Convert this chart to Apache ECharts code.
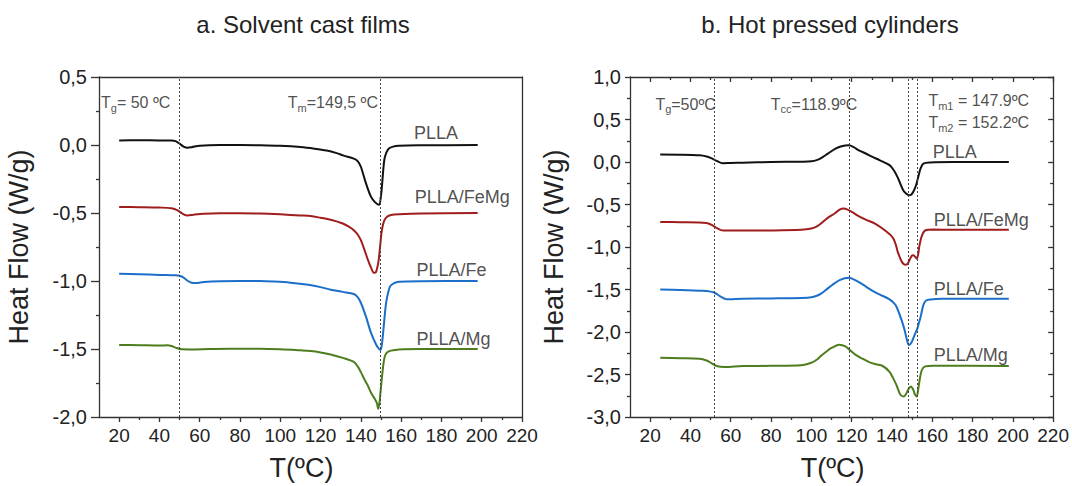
<!DOCTYPE html>
<html>
<head>
<meta charset="utf-8">
<script src="https://cdn.jsdelivr.net/npm/echarts@6/dist/echarts.min.js"></script>
<style>
  html, body { margin: 0; padding: 0; background: #fff; }
  #chart { width: 1072px; height: 486px; }
</style>
</head>
<body>
<div id="chart"></div>
<script>
// a. solvent cast films, [T (ºC), heat flow (W/g)]
const castPLLA = [[20,0.034],[30,0.035],[40,0.034],[46,0.033],[48,0.028],[50,0.01],[52,-0.012],[54,-0.02],[56,-0.016],[60,-0.005],[70,0],[80,0],[90,-0.002],[100,-0.006],[110,-0.015],[117,-0.027],[123,-0.041],[128,-0.06],[131.5,-0.078],[136.5,-0.1],[138.5,-0.12],[140,-0.16],[142.5,-0.28],[145,-0.38],[147,-0.42],[149,-0.44],[150,-0.37],[150.6,-0.28],[151.2,-0.17],[151.9,-0.09],[153.6,-0.03],[156,-0.012],[159,-0.005],[170,-0.002],[198,0]];
const castFeMg = [[20,-0.455],[30,-0.457],[40,-0.46],[46,-0.465],[49,-0.48],[52,-0.51],[54,-0.518],[57,-0.512],[62,-0.505],[70,-0.502],[80,-0.502],[90,-0.504],[100,-0.51],[110,-0.518],[115,-0.522],[120,-0.535],[125,-0.55],[131,-0.577],[134,-0.6],[136.5,-0.626],[138.5,-0.66],[140,-0.7],[142,-0.78],[143.5,-0.845],[145,-0.9],[146.5,-0.94],[147.5,-0.935],[148.7,-0.86],[149.6,-0.74],[150.4,-0.63],[151.5,-0.56],[153,-0.528],[155,-0.515],[159,-0.509],[170,-0.503],[198,-0.5]];
const castFe = [[20,-0.947],[30,-0.95],[40,-0.955],[48,-0.958],[50,-0.962],[52,-0.975],[54,-0.998],[56,-1.013],[58,-1.015],[62,-1.008],[70,-1.002],[80,-1.0],[90,-1.0],[97,-1.004],[105,-1.012],[114,-1.028],[120,-1.045],[125,-1.064],[131,-1.08],[136.5,-1.096],[138.5,-1.12],[140,-1.16],[142.5,-1.26],[145,-1.38],[147.5,-1.465],[149,-1.5],[149.8,-1.508],[150.5,-1.46],[151.2,-1.36],[152,-1.23],[152.8,-1.137],[154.5,-1.04],[156.5,-1.015],[159,-1.005],[170,-1.001],[198,-1.0]];
const castMg = [[20,-1.47],[30,-1.472],[40,-1.475],[44,-1.472],[46,-1.478],[48,-1.49],[51,-1.502],[55,-1.503],[65,-1.5],[75,-1.498],[90,-1.498],[100,-1.502],[110,-1.51],[115,-1.515],[120,-1.525],[125,-1.54],[131,-1.565],[136.5,-1.595],[138.5,-1.63],[140,-1.67],[142,-1.73],[143.5,-1.77],[145,-1.82],[147,-1.87],[148,-1.9],[148.6,-1.94],[149.2,-1.9],[150,-1.78],[150.6,-1.69],[151.3,-1.6],[152,-1.55],[153,-1.525],[155,-1.512],[159,-1.503],[170,-1.5],[198,-1.5]];

// b. hot pressed cylinders
const pressPLLA = [[25,0.087],[35,0.085],[44.5,0.078],[48,0.065],[50,0.048],[53,0.013],[56,-0.015],[60,-0.012],[66,-0.008],[80,0],[95,0.004],[100,0.008],[103,0.025],[105,0.048],[108,0.095],[112,0.157],[115,0.185],[118.6,0.196],[121,0.175],[123.6,0.137],[127,0.1],[130.4,0.06],[134,0.02],[138.8,-0.037],[141,-0.1],[143,-0.19],[145.5,-0.33],[147,-0.37],[148.4,-0.39],[149.5,-0.385],[150.6,-0.35],[152,-0.27],[153.1,-0.17],[154.3,-0.07],[155.6,-0.018],[159,-0.005],[170,0],[198,0]];
const pressFeMg = [[25,-0.705],[35,-0.708],[47.9,-0.717],[50.5,-0.74],[52.9,-0.775],[56.3,-0.806],[66,-0.806],[80,-0.805],[95,-0.798],[100,-0.783],[103,-0.755],[105.1,-0.717],[108,-0.66],[111.9,-0.6],[114,-0.56],[116.1,-0.546],[118,-0.56],[120.3,-0.59],[123,-0.63],[127,-0.678],[132,-0.73],[137.1,-0.815],[140.5,-0.892],[142,-0.98],[143,-1.067],[144.7,-1.164],[145.8,-1.2],[146.9,-1.21],[148,-1.19],[148.9,-1.145],[149.8,-1.105],[150.6,-1.098],[151.5,-1.115],[152.3,-1.137],[153,-1.09],[153.6,-0.99],[154.8,-0.873],[156.5,-0.806],[160.7,-0.795],[170,-0.797],[198,-0.797]];
const pressFe = [[25,-1.5],[35,-1.505],[46,-1.515],[50,-1.525],[52,-1.538],[54.6,-1.577],[58,-1.615],[66,-1.608],[80,-1.605],[95,-1.6],[100,-1.592],[103,-1.57],[105,-1.546],[108,-1.49],[110.2,-1.45],[114,-1.39],[118.6,-1.362],[121,-1.38],[123.6,-1.412],[127,-1.465],[130.4,-1.515],[134,-1.56],[138.8,-1.615],[141,-1.66],[142.2,-1.7],[144.7,-1.854],[146.4,-1.988],[147.6,-2.11],[148.4,-2.154],[149.7,-2.123],[151.4,-2.027],[152.6,-1.96],[153.3,-1.9],[154.3,-1.815],[155.6,-1.68],[157,-1.63],[159,-1.618],[165,-1.61],[198,-1.608]];
const pressMg = [[25,-2.304],[35,-2.308],[44.5,-2.315],[48,-2.335],[50,-2.36],[53,-2.4],[57,-2.412],[66,-2.4],[80,-2.398],[95,-2.392],[100,-2.362],[103,-2.32],[105,-2.277],[108,-2.22],[110.2,-2.185],[113.9,-2.15],[116.9,-2.169],[119,-2.21],[122,-2.269],[125,-2.31],[128.7,-2.354],[132,-2.38],[135.4,-2.4],[138.8,-2.469],[140.5,-2.54],[142.2,-2.623],[144.2,-2.738],[145.9,-2.758],[147,-2.73],[148,-2.681],[149.4,-2.642],[150.6,-2.681],[151.5,-2.74],[152.3,-2.758],[153,-2.68],[153.6,-2.585],[154.8,-2.45],[156.5,-2.404],[160.7,-2.396],[198,-2.4]];

const seriesNames = ['PLLA', 'PLLA/FeMg', 'PLLA/Fe', 'PLLA/Mg'];
const lineColors = ['#111111', '#a01d1d', '#1c6fc8', '#4d7d1c'];

const xMajorTicks = [20, 40, 60, 80, 100, 120, 140, 160, 180, 200, 220];
const xMinorTicks = [30, 50, 70, 90, 110, 130, 150, 170, 190, 210];

// dotted guide lines (ºC)
const castGuides = [50, 149.5];
const pressGuides = [51.7, 118.9, 148.3, 152.5];

// where the curve names sit, [T, heat flow]
const castNameAt = [[166.4, 0.085], [166.7, -0.383], [167.6, -0.918], [167.6, -1.425]];
const pressNameAt = [[160.2, 0.12], [160.7, -0.678], [160.7, -1.49], [160.7, -2.27]];

// text notes: T + subscript + rest
const castNotes = [
  { t: 'T', s: 'g', r: '= 50 ºC', at: [11, 0.31], align: 'left' },
  { t: 'T', s: 'm', r: '=149,5 ºC', at: [148.5, 0.31], align: 'right' }
];
const pressNotes = [
  { t: 'T', s: 'g', r: '=50ºC', at: [22.6, 0.68], align: 'left' },
  { t: 'T', s: 'cc', r: '=118.9ºC', at: [79.9, 0.68], align: 'left' },
  { t: 'T', s: 'm1', r: ' = 147.9ºC', at: [158.1, 0.72], align: 'left' },
  { t: 'T', s: 'm2', r: ' = 152.2ºC', at: [158.1, 0.46], align: 'left' }
];

const FONT = '"Liberation Sans", Arial, sans-serif';
const INK = '#222';
const AXIS = { lineStyle: { color: '#333', width: 1.3 } };

function xAxisFor(grid, extra) {
  return Object.assign({
    type: 'value', gridIndex: grid, min: 10, max: 220,
    splitLine: { show: false },
    axisLine: { show: false, onZero: false },
    axisTick: { show: false },
    axisLabel: { show: false }
  }, extra);
}

function yAxisFor(grid, lo, hi, extra) {
  return Object.assign({
    type: 'value', gridIndex: grid, min: lo, max: hi, interval: 0.5,
    splitLine: { show: false },
    axisLine: { show: false, onZero: false },
    axisTick: { show: false },
    axisLabel: { show: false }
  }, extra);
}

const commaFmt = v => v.toFixed(1).replace('.', ',');

function xAxesFor(grid, mirror) {
  const list = [
    xAxisFor(grid, {
      position: 'bottom',
      name: 'T(ºC)', nameLocation: 'middle', nameGap: 37,
      nameTextStyle: { fontFamily: FONT, fontSize: 27, color: INK, padding: [0, 18, 0, 0] },
      axisLine: Object.assign({ show: true, onZero: false }, AXIS),
      axisTick: { show: true, length: 5, customValues: xMajorTicks, lineStyle: { color: '#333', width: 1.3 } },
      axisLabel: { show: true, customValues: xMajorTicks, margin: 9, fontFamily: FONT, fontSize: 19, color: INK }
    }),
    xAxisFor(grid, {
      position: 'bottom',
      axisTick: { show: true, length: 3, customValues: xMinorTicks, lineStyle: { color: '#333', width: 1.3 } }
    }),
    xAxisFor(grid, {
      position: 'top',
      axisLine: Object.assign({ show: true, onZero: false }, AXIS),
      axisTick: mirror ? { show: true, inside: true, length: 5, customValues: xMajorTicks, lineStyle: { color: '#333', width: 1.3 } } : { show: false }
    })
  ];
  if (mirror) {
    list.push(xAxisFor(grid, {
      position: 'top',
      axisTick: { show: true, inside: true, length: 3, customValues: xMinorTicks, lineStyle: { color: '#333', width: 1.3 } }
    }));
  }
  return list;
}

function yAxesFor(grid, lo, hi, tickLen, nameGap, mirror) {
  return [
    yAxisFor(grid, lo, hi, {
      position: 'left',
      name: 'Heat Flow (W/g)', nameLocation: 'middle', nameGap: nameGap,
      nameTextStyle: { fontFamily: FONT, fontSize: 27, color: INK },
      axisLine: Object.assign({ show: true, onZero: false }, AXIS),
      axisTick: { show: true, length: tickLen, lineStyle: { color: '#333', width: 1.3 } },
      minorTick: { show: true, splitNumber: 2, length: 3, lineStyle: { color: '#333', width: 1.3 } },
      axisLabel: { show: true, formatter: commaFmt, margin: tickLen + 4, fontFamily: FONT, fontSize: 20, color: INK }
    }),
    yAxisFor(grid, lo, hi, {
      position: 'right',
      axisLine: Object.assign({ show: true, onZero: false }, AXIS),
      axisTick: mirror ? { show: true, inside: true, length: 5, lineStyle: { color: '#333', width: 1.3 } } : { show: false },
      minorTick: mirror ? { show: true, splitNumber: 2, length: 3, lineStyle: { color: '#333', width: 1.3 } } : { show: false }
    })
  ];
}

const castX = xAxesFor(0, false);
const pressX = xAxesFor(1, true);
const xAxes = castX.concat(pressX);
const pressXIndex = castX.length;
const yAxes = yAxesFor(0, -2, 0.5, 8, 67, false).concat(yAxesFor(1, -3, 1, 5, 63, true));

function curveSeries(data, i, xi, yi, guides) {
  const s = {
    type: 'line', name: seriesNames[i], data: data,
    xAxisIndex: xi, yAxisIndex: yi,
    showSymbol: false, smooth: 0.3,
    lineStyle: { color: lineColors[i], width: 2 },
    itemStyle: { color: lineColors[i] },
    z: 3
  };
  if (guides) {
    s.markLine = {
      silent: true, symbol: 'none', animation: false,
      label: { show: false },
      lineStyle: { color: '#444', type: [2, 2], width: 1 },
      data: guides.map(g => ({ xAxis: g }))
    };
  }
  return s;
}

const noteRich = {
  n: { fontFamily: FONT, fontSize: 16, color: INK, lineHeight: 21, verticalAlign: 'middle' },
  s: { fontFamily: FONT, fontSize: 11, color: INK, lineHeight: 21, verticalAlign: 'bottom' }
};

function textSeries(items, xi, yi) {
  return {
    type: 'scatter', xAxisIndex: xi, yAxisIndex: yi,
    symbolSize: 1, itemStyle: { color: 'rgba(0,0,0,0)' }, silent: true, z: 5,
    data: items
  };
}

function nameItems(pos) {
  return pos.map((p, i) => ({
    value: p,
    label: { show: true, position: 'inside', align: 'left', verticalAlign: 'middle',
      formatter: seriesNames[i], fontFamily: FONT, fontSize: 18, color: INK }
  }));
}

function noteItems(notes) {
  return notes.map(n => ({
    value: n.at,
    label: { show: true, position: 'inside', align: n.align, verticalAlign: 'middle',
      formatter: '{n|' + n.t + '}{s|' + n.s + '}{n|' + n.r + '}', rich: noteRich }
  }));
}

const castData = [castPLLA, castFeMg, castFe, castMg];
const pressData = [pressPLLA, pressFeMg, pressFe, pressMg];

const series = [];
castData.forEach((d, i) => series.push(curveSeries(d, i, 0, 0, i === 0 ? castGuides : null)));
pressData.forEach((d, i) => series.push(curveSeries(d, i, pressXIndex, 2, i === 0 ? pressGuides : null)));
series.push(textSeries(nameItems(castNameAt).concat(noteItems(castNotes)), 0, 0));
series.push(textSeries(nameItems(pressNameAt).concat(noteItems(pressNotes)), pressXIndex, 2));

const chart = echarts.init(document.getElementById('chart'), null, { renderer: 'svg' });
chart.setOption({
  backgroundColor: '#fff',
  animation: false,
  title: [
    { text: 'a. Solvent cast films', left: 298, top: 7, textAlign: 'center',
      textStyle: { fontFamily: FONT, fontSize: 24, fontWeight: 'normal', color: INK } },
    { text: 'b. Hot pressed cylinders', left: 825, top: 7, textAlign: 'center',
      textStyle: { fontFamily: FONT, fontSize: 24, fontWeight: 'normal', color: INK } }
  ],
  grid: [
    { left: 99, right: 550, top: 77, bottom: 68 },
    { left: 630, right: 18, top: 77, bottom: 67 }
  ],
  xAxis: xAxes,
  yAxis: yAxes,
  series: series
});
</script>
</body>
</html>
